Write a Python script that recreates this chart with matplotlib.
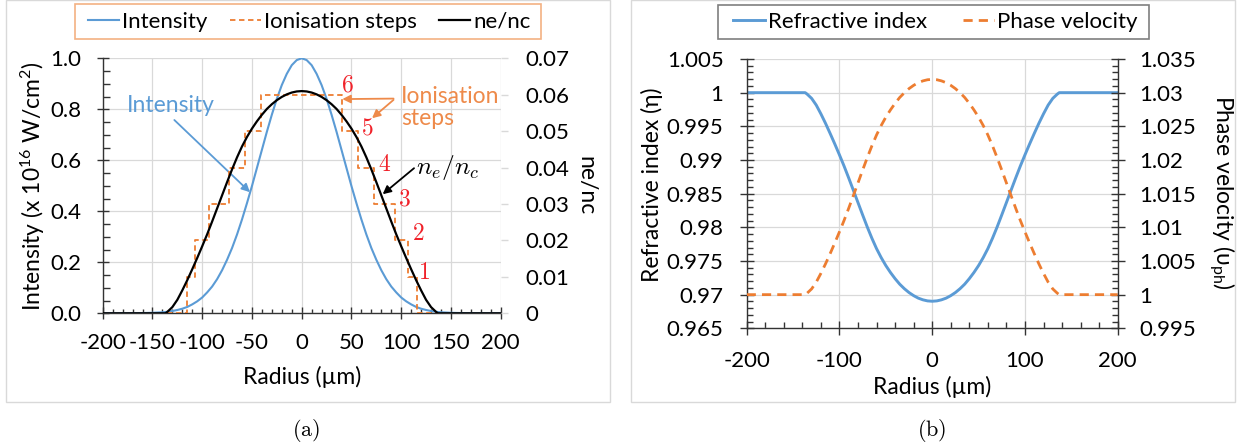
import matplotlib
matplotlib.use("Agg")
import matplotlib.pyplot as plt
from matplotlib.patches import Rectangle
from matplotlib.lines import Line2D
from matplotlib.ticker import MultipleLocator

plt.rcParams['font.family'] = ['Lato', 'DejaVu Sans']
plt.rcParams['mathtext.fontset'] = 'custom'
plt.rcParams['mathtext.rm'] = 'Lato'
plt.rcParams['mathtext.it'] = 'Lato:italic'
plt.rcParams['mathtext.bf'] = 'Lato:bold'

# ---------------- data ----------------
radius = [-200, -190, -180, -170, -160, -150, -145, -140, -137, -135, -130, -125, -120,
          -115, -110, -105, -100, -95, -90, -85, -80, -75, -70, -65, -60, -55, -50,
          -45, -40, -35, -30, -25, -20, -15, -10, -5, 0, 5, 10, 15, 20, 25, 30, 35,
          40, 45, 50, 55, 60, 65, 70, 75, 80, 85, 90, 95, 100, 105, 110, 115, 120,
          125, 130, 135, 137, 140, 145, 150, 160, 170, 180, 190, 200]

intensity = [0.0, 0.0, 0.0001, 0.0003, 0.001, 0.002, 0.003, 0.004, 0.005, 0.006, 0.009,
             0.013, 0.018, 0.025, 0.035, 0.047, 0.062, 0.082, 0.105, 0.134, 0.169, 0.210,
             0.256, 0.309, 0.368, 0.432, 0.499, 0.570, 0.641, 0.712, 0.779, 0.841, 0.895,
             0.939, 0.973, 0.993, 1.000, 0.993, 0.973, 0.939, 0.895, 0.841, 0.779, 0.712,
             0.641, 0.570, 0.499, 0.432, 0.368, 0.309, 0.256, 0.210, 0.169, 0.134, 0.105,
             0.082, 0.062, 0.047, 0.035, 0.025, 0.018, 0.013, 0.009, 0.006, 0.005, 0.004,
             0.003, 0.002, 0.001, 0.0003, 0.0001, 0.0, 0.0]

ne_nc = [0, 0, 0, 0, 0, 0, 0, 0, 0, 0.0004, 0.0017, 0.0037, 0.0063, 0.0091, 0.0121,
         0.0152, 0.0184, 0.0217, 0.0252, 0.0288, 0.0324, 0.0360, 0.0395, 0.0428, 0.0458,
         0.0484, 0.0507, 0.0527, 0.0545, 0.0561, 0.0574, 0.0585, 0.0594, 0.0601, 0.0606,
         0.0609, 0.0610, 0.0609, 0.0606, 0.0601, 0.0594, 0.0585, 0.0574, 0.0561, 0.0545,
         0.0527, 0.0507, 0.0484, 0.0458, 0.0428, 0.0395, 0.0360, 0.0324, 0.0288, 0.0252,
         0.0217, 0.0184, 0.0152, 0.0121, 0.0091, 0.0063, 0.0037, 0.0017, 0.0004, 0, 0,
         0, 0, 0, 0, 0, 0, 0]

refr_index = [1.0, 1.0, 1.0, 1.0, 1.0, 1.0, 1.0, 1.0, 1.0, 0.99980, 0.99915, 0.99815,
              0.99685, 0.99544, 0.99393, 0.99237, 0.99076, 0.98909, 0.98732, 0.98550,
              0.98367, 0.98184, 0.98005, 0.97837, 0.97683, 0.97550, 0.97432, 0.97329,
              0.97237, 0.97155, 0.97088, 0.97031, 0.96985, 0.96948, 0.96923, 0.96907,
              0.96902, 0.96907, 0.96923, 0.96948, 0.96985, 0.97031, 0.97088, 0.97155,
              0.97237, 0.97329, 0.97432, 0.97550, 0.97683, 0.97837, 0.98005, 0.98184,
              0.98367, 0.98550, 0.98732, 0.98909, 0.99076, 0.99237, 0.99393, 0.99544,
              0.99685, 0.99815, 0.99915, 0.99980, 1.0, 1.0, 1.0, 1.0, 1.0, 1.0, 1.0,
              1.0, 1.0]

phase_vel = [1.0, 1.0, 1.0, 1.0, 1.0, 1.0, 1.0, 1.0, 1.0, 1.00020, 1.00085, 1.00186,
             1.00316, 1.00458, 1.00610, 1.00769, 1.00933, 1.01103, 1.01284, 1.01472,
             1.01660, 1.01850, 1.02035, 1.02211, 1.02372, 1.02512, 1.02636, 1.02744,
             1.02842, 1.02929, 1.02999, 1.03060, 1.03109, 1.03148, 1.03175, 1.03192,
             1.03197, 1.03192, 1.03175, 1.03148, 1.03109, 1.03060, 1.02999, 1.02929,
             1.02842, 1.02744, 1.02636, 1.02512, 1.02372, 1.02211, 1.02035, 1.01850,
             1.01660, 1.01472, 1.01284, 1.01103, 1.00933, 1.00769, 1.00610, 1.00458,
             1.00316, 1.00186, 1.00085, 1.00020, 1.0, 1.0, 1.0, 1.0, 1.0, 1.0, 1.0,
             1.0, 1.0]

step_edges = [-135, -115.5, -107, -93.4, -72.7, -56.5, -40.7, 40.7, 56.5, 72.7, 93.4,
              107, 115.5, 135]
step_levels = [0, 0.01, 0.02, 0.03, 0.04, 0.05, 0.06, 0.05, 0.04, 0.03, 0.02, 0.01, 0, 0]

step_numbers = ['1', '2', '3', '4', '5', '6']
step_number_pos = [(122.6, 0.161), (117.6, 0.311), (103.3, 0.448), (83.2, 0.585),
                   (65.6, 0.727), (45.5, 0.897)]

xticks_a = [-200, -150, -100, -50, 0, 50, 100, 150, 200]
xticklabels_a = ['-200', '-150', '-100', '-50', '0', '50', '100', '150', '200']
yticks_a = [0.0, 0.2, 0.4, 0.6, 0.8, 1.0]
yticklabels_a = ['0.0', '0.2', '0.4', '0.6', '0.8', '1.0']
y2ticks_a = [0, 0.01, 0.02, 0.03, 0.04, 0.05, 0.06, 0.07]
y2ticklabels_a = ['0', '0.01', '0.02', '0.03', '0.04', '0.05', '0.06', '0.07']

xticks_b = [-200, -100, 0, 100, 200]
xticklabels_b = ['-200', '-100', '0', '100', '200']
yticks_b = [0.965, 0.97, 0.975, 0.98, 0.985, 0.99, 0.995, 1.0, 1.005]
yticklabels_b = ['0.965', '0.97', '0.975', '0.98', '0.985', '0.99', '0.995', '1', '1.005']
y2ticks_b = [0.995, 1.0, 1.005, 1.01, 1.015, 1.02, 1.025, 1.03, 1.035]
y2ticklabels_b = ['0.995', '1', '1.005', '1.01', '1.015', '1.02', '1.025', '1.03', '1.035']

# ---------------- style ----------------
W, H = 1254, 448
BLUE = '#5B9BD5'
ORANGE = '#ED7D31'
ORANGE_TXT = '#EE8A4A'
GRID = '#D9D9D9'
AXC = '#333333'
TICKFS = 16
LABFS = 16.5

fig = plt.figure(figsize=(W / 100, H / 100), dpi=100)


def fx(px):
    return px / W


def fy(py):
    return 1 - py / H


# panel boxes
for x0, x1 in [(6, 610), (631, 1235)]:
    fig.add_artist(Rectangle((fx(x0), fy(402)), fx(x1 - x0), (402 - 0.5) / H,
                             transform=fig.transFigure, fill=False, ec=GRID, lw=1.0))

# ================= panel (a) =================
ax1 = fig.add_axes([fx(102.7), fy(313.3), fx(500.7 - 102.7), (313.3 - 58.3) / H])
ax2 = ax1.twinx()

ax1.plot(radius, intensity, color=BLUE, lw=1.5, solid_capstyle='round')
ax2.plot(step_edges, step_levels, drawstyle='steps-post', color=ORANGE, lw=1.3,
         ls=(0, (3, 2)))
ax2.plot(radius, ne_nc, color='black', lw=1.6)

ax1.set_xlim(-200, 200)
ax1.set_ylim(0, 1.0)
ax2.set_ylim(0, 0.07)

ax1.set_xticks(xticks_a)
ax1.set_xticklabels(xticklabels_a)
ax1.set_yticks(yticks_a)
ax1.set_yticklabels(yticklabels_a)
ax1.xaxis.set_minor_locator(MultipleLocator(10))
ax1.yaxis.set_minor_locator(MultipleLocator(0.05))
ax2.set_yticks(y2ticks_a)
ax2.set_yticklabels(y2ticklabels_a)

ax1.grid(True, which='major', color=GRID, lw=0.9)
ax1.set_axisbelow(True)
for s in ['top', 'right']:
    ax1.spines[s].set_visible(False)
for s in ['top', 'right', 'left', 'bottom']:
    ax2.spines[s].set_visible(False)
for s in ['left', 'bottom']:
    ax1.spines[s].set_color(AXC)
    ax1.spines[s].set_linewidth(1.0)

ax1.tick_params(axis='x', which='major', direction='inout', length=8, width=1.0,
                color=AXC, labelsize=TICKFS, pad=10.5)
ax1.tick_params(axis='x', which='minor', direction='in', length=3, width=1.0, color=AXC)
ax1.tick_params(axis='y', which='major', direction='inout', length=8.6, width=1.0,
                color=AXC, labelsize=TICKFS, pad=11.0)
ax1.tick_params(axis='y', which='minor', direction='in', length=5, width=1.0, color=AXC)
ax2.tick_params(axis='y', which='major', direction='out', length=5, width=1.0,
                color=GRID, labelsize=TICKFS, pad=12.5)

ax1.set_xlabel('Radius (\u00b5m)', fontsize=LABFS)
ax1.xaxis.set_label_coords(0.5, (313.3 - 377) / 255)
ax1.xaxis.label.set_va('center')
ax1.set_ylabel('Intensity (x 10$^{16}$ W/cm$^{2}$)', fontsize=LABFS)
ax1.yaxis.set_label_coords((33 - 102.7) / 398, 0.5)
ax1.yaxis.label.set_va('center')
ax2.set_ylabel('ne/nc', fontsize=LABFS, rotation=270)
ax2.yaxis.set_label_coords((586 - 102.7) / 398, 0.5)
ax2.yaxis.label.set_va('center')

# annotations (panel a), in ax1 data coordinates
ax1.text(-131.4, 0.813, 'Intensity', color=BLUE, fontsize=16.5, ha='center', va='center')
ax1.annotate('', xy=(-52, 0.475), xytext=(-128, 0.758),
             arrowprops=dict(arrowstyle='-|>', color=BLUE, lw=1.3, mutation_scale=12,
                             shrinkA=0, shrinkB=0))
ax1.text(99.8, 0.807, 'Ionisation\nsteps', color=ORANGE_TXT, fontsize=16.5,
         ha='left', va='center', linespacing=1.1)
ax1.annotate('', xy=(40.8, 0.840), xytext=(92.3, 0.842),
             arrowprops=dict(arrowstyle='-|>', color=ORANGE_TXT, lw=1.3, mutation_scale=12,
                             shrinkA=0, shrinkB=0))
ax1.annotate('', xy=(70.7, 0.765), xytext=(92.3, 0.837),
             arrowprops=dict(arrowstyle='-|>', color=ORANGE_TXT, lw=1.3, mutation_scale=12,
                             shrinkA=0, shrinkB=0))
for lab, (xx, yy) in zip(step_numbers, step_number_pos):
    ax1.text(xx, yy, r'$\mathrm{%s}$' % lab, color='#F0222A', fontsize=17,
             ha='center', va='center', math_fontfamily='cm')
ax1.text(147, 0.572, r'$n_e/n_c$', color='black', fontsize=18.5, ha='center', va='center',
         math_fontfamily='cm')
ax1.annotate('', xy=(81.4, 0.467), xytext=(112.9, 0.569),
             arrowprops=dict(arrowstyle='-|>', color='black', lw=1.3, mutation_scale=12,
                             shrinkA=0, shrinkB=0))

# legend (a)
fig.add_artist(Rectangle((fx(75), fy(39)), fx(541 - 75), 35 / H, transform=fig.transFigure,
                         fill=True, fc='white', ec='#F4B183', lw=1.2))
h_a = [Line2D([], [], color=BLUE, lw=1.5),
       Line2D([], [], color=ORANGE, lw=1.3, ls=(0, (3, 2))),
       Line2D([], [], color='black', lw=1.6)]
fig.legend(h_a, ['Intensity', 'Ionisation steps', 'ne/nc'], loc='center',
           bbox_to_anchor=(fx(309.5), fy(21.5)), ncol=3, frameon=False, fontsize=16,
           handlelength=1.4, handletextpad=0.15, columnspacing=1.0, borderpad=0.1)

# ================= panel (b) =================
ax3 = fig.add_axes([fx(746.7), fy(328.3), fx(1117.7 - 746.7), (328.3 - 59) / H])
ax4 = ax3.twinx()
ax3.plot(radius, refr_index, color=BLUE, lw=2.1)
ax4.plot(radius, phase_vel, color=ORANGE, lw=2.0, ls=(0, (3.3, 2.2)))

ax3.set_xlim(-200, 200)
ax3.set_ylim(0.965, 1.005)
ax4.set_ylim(0.995, 1.035)
ax3.set_xticks(xticks_b)
ax3.set_xticklabels(xticklabels_b)
ax3.set_yticks(yticks_b)
ax3.set_yticklabels(yticklabels_b)
ax4.set_yticks(y2ticks_b)
ax4.set_yticklabels(y2ticklabels_b)
ax3.xaxis.set_minor_locator(MultipleLocator(20))
ax3.yaxis.set_minor_locator(MultipleLocator(0.001))
ax4.yaxis.set_minor_locator(MultipleLocator(0.001))

ax3.grid(True, which='major', color=GRID, lw=0.9)
ax3.set_axisbelow(True)
ax3.spines['top'].set_visible(False)
ax3.spines['right'].set_visible(False)
ax4.spines['top'].set_visible(False)
ax4.spines['left'].set_visible(False)
ax4.spines['bottom'].set_visible(False)
for sp in [ax3.spines['left'], ax3.spines['bottom'], ax4.spines['right']]:
    sp.set_color(AXC)
    sp.set_linewidth(1.0)

ax3.tick_params(axis='x', which='major', direction='inout', length=9.4, width=1.0,
                color=AXC, labelsize=TICKFS, pad=11.8)
ax3.tick_params(axis='x', which='minor', direction='in', length=4.2, width=1.0, color=AXC)
ax3.tick_params(axis='y', which='major', direction='inout', length=9.4, width=1.0,
                color=AXC, labelsize=TICKFS, pad=12.0)
ax3.tick_params(axis='y', which='minor', direction='in', length=4.2, width=1.0, color=AXC)
ax4.tick_params(axis='y', which='major', direction='inout', length=9.4, width=1.0,
                color=AXC, labelsize=TICKFS, pad=11.0)
ax4.tick_params(axis='y', which='minor', direction='in', length=4.2, width=1.0, color=AXC)

ax3.set_xlabel('Radius (\u00b5m)', fontsize=LABFS)
ax3.xaxis.set_label_coords(0.4995, (328.3 - 387) / 269.3)
ax3.xaxis.label.set_va('center')
ax3.set_ylabel('Refractive index (\u03b7)', fontsize=LABFS)
ax3.yaxis.set_label_coords((652 - 746.7) / 371, 0.532)
ax3.yaxis.label.set_va('center')
ax4.set_ylabel('Phase velocity (\u03c5$_{\\mathrm{ph}}$)', fontsize=LABFS, rotation=270)
ax4.yaxis.set_label_coords((1222 - 746.7) / 371, 0.506)
ax4.yaxis.label.set_va('center')

# legend (b)
fig.add_artist(Rectangle((fx(718), fy(39)), fx(1149 - 718), 34 / H, transform=fig.transFigure,
                         fill=True, fc='white', ec='#7F7F7F', lw=1.2))
h_b = [Line2D([], [], color=BLUE, lw=2.1),
       Line2D([], [], color=ORANGE, lw=2.0, ls=(0, (3.3, 2.2)))]
fig.legend(h_b, ['Refractive index', 'Phase velocity'], loc='center',
           bbox_to_anchor=(fx(935.5), fy(22)), ncol=2, frameon=False, fontsize=16,
           handlelength=1.4, handletextpad=0.15, columnspacing=1.6, borderpad=0.1)

# captions
fig.text(fx(306), fy(430), r'$\mathrm{(a)}$', fontsize=16, ha='center', va='center',
         math_fontfamily='cm')
fig.text(fx(932), fy(430), r'$\mathrm{(b)}$', fontsize=16, ha='center', va='center',
         math_fontfamily='cm')

fig.savefig('out.png', dpi=100)
